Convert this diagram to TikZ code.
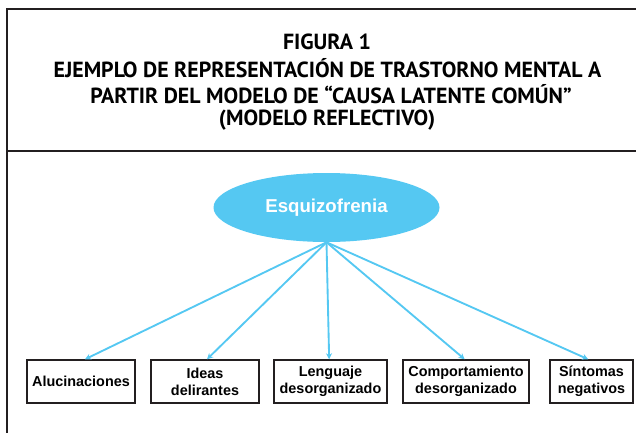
\documentclass[tikz,border=0pt]{standalone}
\usepackage{fontspec}
\setmainfont{Liberation Sans}
\newfontfamily\titlefont{PT Sans}
\usetikzlibrary{shapes.geometric,arrows.meta}
\definecolor{frameline}{RGB}{35,31,32}
\definecolor{skyblue}{RGB}{85,200,242}

\begin{document}
\begin{tikzpicture}[x=0.75pt,y=0.75pt,yscale=-1,xscale=1]
\useasboundingbox (0,0) rectangle (636,433);

%Straight Lines
\draw [color=frameline,line width=1.5]  (7,8.5) -- (7,433) ;
\draw [color=frameline,line width=1.5]  (6.25,9) -- (636,9) ;
\draw [color=frameline,line width=1.8]  (7,151) -- (636,151) ;

% Text Node
\node (fig) at (327,41.5) [inner sep=0.75pt,font=\titlefont\bfseries\fontsize{16.4}{19}\selectfont] {FIGURA 1};
\node (tl1) at (327.5,68) [inner sep=0.75pt,font=\titlefont\bfseries\fontsize{16.4}{19}\selectfont] {EJEMPLO DE REPRESENTACIÓN DE TRASTORNO MENTAL A};
\node (tl2) at (331,94) [inner sep=0.75pt,font=\titlefont\bfseries\fontsize{16.4}{19}\selectfont] {PARTIR DEL MODELO DE “CAUSA LATENTE COMÚN”};
\node (tl3) at (327,120) [inner sep=0.75pt,font=\titlefont\bfseries\fontsize{16.4}{19}\selectfont] {(MODELO REFLECTIVO)};

%Shape: Ellipse
\node (schizo) at (326.5,207.5) [ellipse,fill=skyblue,draw=none,minimum width=169.5pt,minimum height=51.75pt,inner sep=0pt,text=white,font=\bfseries\fontsize{14}{16}\selectfont] {Esquizofrenia};

%Shape: Rectangle
\node (aluc) at (81,381.5) [draw=frameline,line width=1.1,minimum width=81pt,minimum height=32.25pt,inner sep=0pt,align=center,font=\bfseries\fontsize{10.8}{12.75}\selectfont] {Alucinaciones};
\node (ideas) at (205,381.5) [draw=frameline,line width=1.1,minimum width=81pt,minimum height=32.25pt,inner sep=0pt,align=center,font=\bfseries\fontsize{10.8}{12.75}\selectfont] {Ideas\\delirantes};
\node (leng) at (330.5,381.5) [draw=frameline,line width=1.1,minimum width=84.75pt,minimum height=32.25pt,inner sep=0pt,align=center,font=\bfseries\fontsize{10.8}{12.75}\selectfont] {Lenguaje\\desorganizado};
\node (comp) at (466,381.5) [draw=frameline,line width=1.1,minimum width=94.5pt,minimum height=32.25pt,inner sep=0pt,align=center,font=\bfseries\fontsize{10.8}{12.75}\selectfont] {Comportamiento\\desorganizado};
\node (sint) at (591.5,381.5) [draw=frameline,line width=1.1,minimum width=62.25pt,minimum height=32.25pt,inner sep=0pt,align=center,font=\bfseries\fontsize{10.8}{12.75}\selectfont] {Síntomas\\negativos};

%Straight Lines
\draw [color=skyblue,line width=1.4,-{Stealth[length=4.5pt,width=4.5pt]}]  (schizo.south) -- ([xshift=3pt]aluc.north) ;
\draw [color=skyblue,line width=1.4,-{Stealth[length=4.5pt,width=4.5pt]}]  (schizo.south) -- ([xshift=1.5pt]ideas.north) ;
\draw [color=skyblue,line width=1.4,-{Stealth[length=4.5pt,width=4.5pt]}]  (schizo.south) -- ([xshift=-1pt]leng.north) ;
\draw [color=skyblue,line width=1.4,-{Stealth[length=4.5pt,width=4.5pt]}]  (schizo.south) -- ([xshift=-1pt]comp.north) ;
\draw [color=skyblue,line width=1.4,-{Stealth[length=4.5pt,width=4.5pt]}]  (schizo.south) -- ([xshift=-2.5pt]sint.north) ;

\end{tikzpicture}
\end{document}
